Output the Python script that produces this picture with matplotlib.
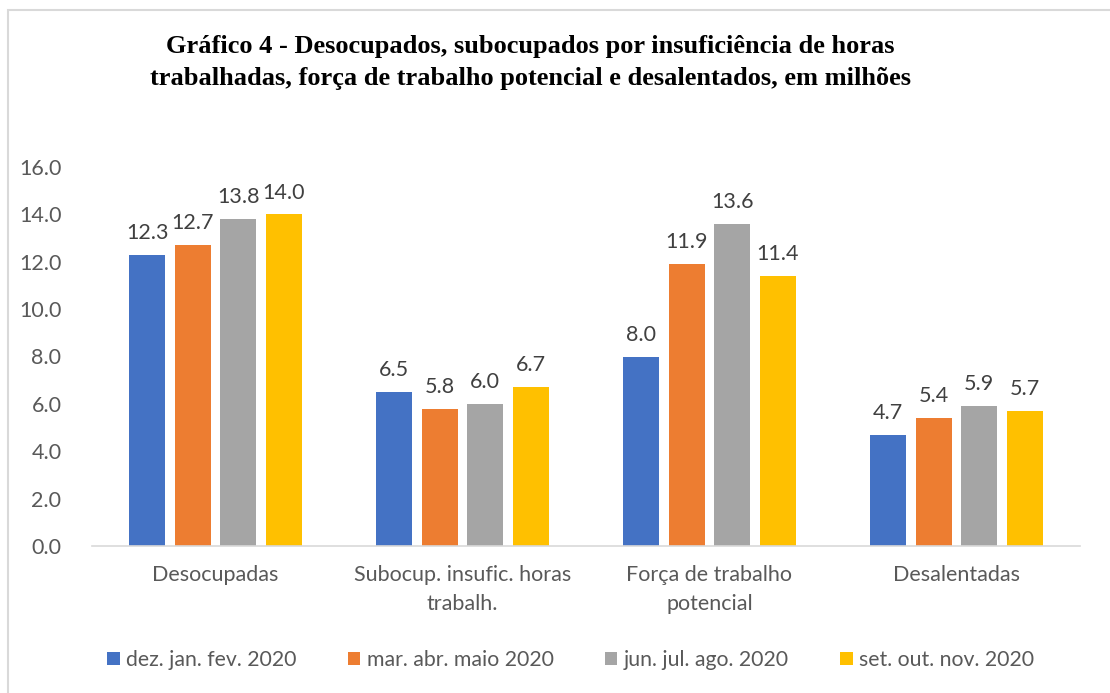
import matplotlib.pyplot as plt
import numpy as np
from matplotlib.patches import Rectangle

categories = ["Desocupadas", "Subocup. insufic. horas\ntrabalh.", "Força de trabalho\npotencial", "Desalentadas"]
periods = ["dez. jan. fev. 2020", "mar. abr. maio 2020", "jun. jul. ago. 2020", "set. out. nov. 2020"]
dez_jan_fev = [12.3, 6.5, 8.0, 4.7]
mar_abr_mai = [12.7, 5.8, 11.9, 5.4]
jun_jul_ago = [13.8, 6.0, 13.6, 5.9]
set_out_nov = [14.0, 6.7, 11.4, 5.7]
yticks = [0, 2, 4, 6, 8, 10, 12, 14, 16]

series = [dez_jan_fev, mar_abr_mai, jun_jul_ago, set_out_nov]
colors = ["#4472C4", "#ED7D31", "#A5A5A5", "#FFC000"]

plt.rcParams["font.family"] = ["Lato", "DejaVu Sans"]

fig = plt.figure(figsize=(11.1, 6.93), dpi=100)
fig.patch.set_facecolor("white")
ax = fig.add_axes([92 / 1110, 1 - 546 / 693, (1080 - 92) / 1110, (546 - 167) / 693])

# chart border (only left/top visible in the crop)
fig.patches.append(Rectangle((8 / 1110, -0.1), 1.2, 1 - 10 / 693 + 0.1, transform=fig.transFigure,
                             fill=False, edgecolor="#D9D9D9", linewidth=1.5))

x = np.arange(len(categories))
width = 0.145
step = 0.184
for i, (vals, c, lab) in enumerate(zip(series, colors, periods)):
    pos = x + (i - 1.5) * step
    bars = ax.bar(pos, vals, width, color=c, label=lab, zorder=2)
    for b, v in zip(bars, vals):
        ax.text(b.get_x() + b.get_width() / 2, v + 0.5, f"{v:.1f}", ha="center", va="bottom",
                fontsize=15.5, color="#404040")

ax.set_xlim(-0.5, 3.5)
ax.set_ylim(0, 16)
ax.set_yticks(yticks)
ax.set_yticklabels([f"{t:.1f}" for t in yticks])
ax.set_xticks(x)
ax.set_xticklabels(categories, linespacing=1.55)
ax.tick_params(axis="both", length=0, labelsize=15.5, colors="#595959")
ax.tick_params(axis="y", pad=22)
ax.tick_params(axis="x", pad=14)
for s in ["top", "right", "left"]:
    ax.spines[s].set_visible(False)
ax.spines["bottom"].set_color("#D9D9D9")
ax.spines["bottom"].set_linewidth(1.2)

fig.text(0.478, 1 - 47 / 693, "Gráfico 4 - Desocupados, subocupados por insuficiência de horas",
         ha="center", va="center", fontsize=19, fontweight="bold", family="Liberation Serif")
fig.text(0.478, 1 - 79 / 693, "trabalhadas, força de trabalho potencial e desalentados, em milhões",
         ha="center", va="center", fontsize=19, fontweight="bold", family="Liberation Serif")

leg = fig.legend(loc="center", bbox_to_anchor=(0.514, 1 - 660 / 693), ncol=4, frameon=False,
                 fontsize=15.3, handlelength=0.6, handleheight=0.6, handletextpad=0.3,
                 columnspacing=2.4, labelcolor="#595959")

fig.savefig("out.png", dpi=100)
